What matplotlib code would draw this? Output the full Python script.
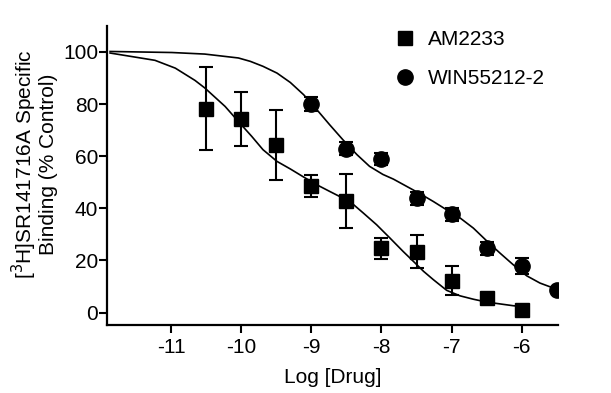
import matplotlib
matplotlib.use("Agg")
import matplotlib.pyplot as plt

plt.rcParams['font.family'] = ['Liberation Sans', 'DejaVu Sans']
plt.rcParams['axes.unicode_minus'] = False

# Data points (mean +/- SEM)
log_dose = [-10.5, -10, -9.5, -9, -8.5, -8, -7.5, -7, -6.5, -6]
am_mean = [78.2, 74.3, 64.3, 48.5, 42.8, 24.6, 23.4, 12.2, 5.5, 0.9]
am_err = [16.0, 10.2, 13.3, 4.1, 10.3, 3.9, 6.4, 5.6, 1.0, 1.0]

win_dose = [-9, -8.5, -8, -7.5, -7, -6.5, -6, -5.5]
win_mean = [80.0, 62.9, 59.0, 43.9, 37.8, 24.6, 17.9, 8.7]
win_err = [2.6, 2.5, 2.2, 2.5, 2.5, 2.5, 3.0, 0.0]

# Fitted curves
am_fit_x = [-11.87, -11.23, -10.94, -10.66, -10.52, -10.23, -10.04, -9.85,
            -9.69, -9.49, -9.30, -9.11, -8.92, -8.74, -8.55, -8.45, -8.26,
            -8.07, -7.88, -7.69, -7.54, -7.40, -7.26, -7.07, -6.88, -6.69,
            -6.50, -6.31, -6.12, -6.0]
am_fit_y = [99.6, 96.8, 93.8, 89.1, 86.2, 79.1, 73.3, 67.6,
            62.5, 58.0, 55.1, 52.0, 49.0, 46.5, 43.9, 42.6, 38.2,
            33.7, 28.6, 23.4, 19.5, 15.8, 12.6, 8.5, 6.4, 5.1,
            4.0, 3.3, 2.6, 2.3]

win_fit_x = [-11.87, -10.99, -10.52, -10.04, -9.87, -9.69, -9.49, -9.30,
             -9.11, -8.92, -8.74, -8.55, -8.35, -8.17, -7.98, -7.83, -7.64,
             -7.45, -7.26, -7.07, -6.88, -6.69, -6.50, -6.31, -6.12, -5.93,
             -5.74, -5.55, -5.5]
win_fit_y = [100.2, 99.8, 99.2, 97.7, 96.4, 94.5, 91.9, 88.3,
             83.6, 77.8, 72.1, 66.3, 60.6, 56.1, 53.0, 51.2, 48.4,
             45.6, 42.6, 39.4, 36.3, 32.4, 27.5, 22.8, 18.3, 14.1,
             11.3, 9.4, 8.7]

fs = 15

fig = plt.figure(figsize=(6.11, 3.93), dpi=100)
ax = fig.add_axes([0.1756, 0.173, 0.738, 0.761])

ax.plot(am_fit_x, am_fit_y, color='black', lw=1.2)
ax.plot(win_fit_x, win_fit_y, color='black', lw=1.2)

am = ax.errorbar(log_dose, am_mean, yerr=am_err, fmt='s', color='black',
                 ms=10.5, elinewidth=1.5, capsize=5, capthick=1.5)
win = ax.errorbar(win_dose, win_mean, yerr=win_err, fmt='o', color='black',
                  ms=11, elinewidth=1.5, capsize=5, capthick=1.5)

ax.set_xlim(-11.91, -5.48)
ax.set_ylim(-4.8, 110)
ax.set_xticks([-11, -10, -9, -8, -7, -6])
ax.set_yticks([0, 20, 40, 60, 80, 100])

for side in ['top', 'right']:
    ax.spines[side].set_visible(False)
for side in ['left', 'bottom']:
    ax.spines[side].set_linewidth(1.6)
ax.tick_params(width=1.5, length=5.5, labelsize=fs)
ax.tick_params(axis='x', pad=3.5)
ax.tick_params(axis='y', pad=1)

ax.set_xlabel('Log [Drug]', fontsize=fs, labelpad=8)
fig.text(34 / 611, 1 - 164 / 393, '[$^3$H]SR141716A Specific\nBinding (% Control)',
         rotation=90, ha='center', va='center', multialignment='center', fontsize=fs,
         linespacing=1.0)

ax.legend([am[0], win[0]], ['AM2233', 'WIN55212-2'], loc='upper left',
          bbox_to_anchor=(0.614, 1.013), frameon=False, fontsize=fs,
          handletextpad=0.5, labelspacing=0.94, handlelength=1.2, borderaxespad=0)

fig.savefig('out.png', dpi=100)
